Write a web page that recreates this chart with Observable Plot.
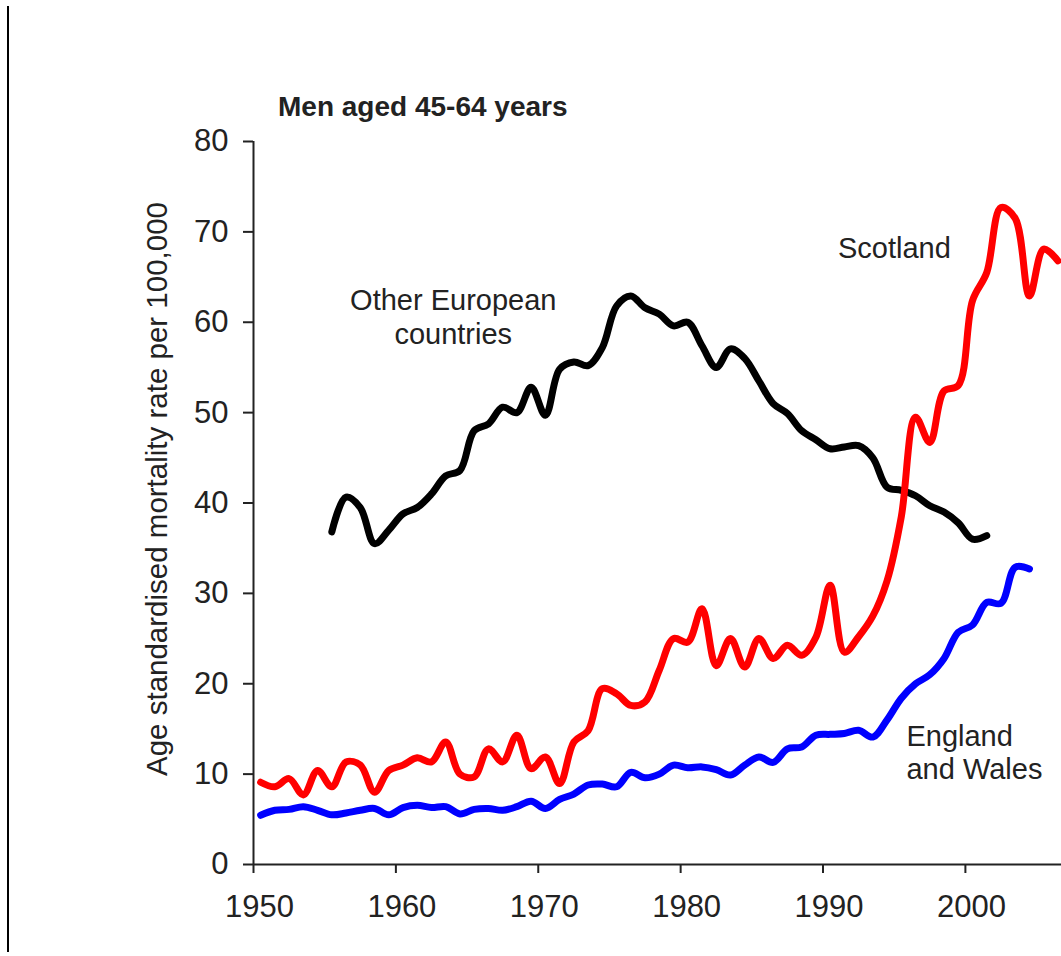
<!DOCTYPE html>
<html><head><meta charset="utf-8">
<script src="https://cdn.jsdelivr.net/npm/d3@7"></script>
<script src="https://cdn.jsdelivr.net/npm/@observablehq/plot@0.6"></script>
<style>
body{margin:0;background:#fff;}
#wrap{position:relative;width:1061px;height:956px;overflow:hidden;font-family:"Liberation Sans",Arial,sans-serif;background:#fff;}
#border{position:absolute;left:7px;top:6px;width:2px;height:946px;background:#000;}
#title{position:absolute;left:278px;top:91px;font-weight:bold;font-size:28px;color:#222;white-space:nowrap;}
#chart{position:absolute;left:0;top:0;}
</style></head><body>
<div id="wrap"><div id="border"></div><div id="chart"></div><div id="title">Men aged 45-64 years</div></div>
<script>
// Data (annual values, plotted mid-year)
const englandStart = 1950;
const englandValues = [5.45,6.0,6.1,6.4,6.0,5.5,5.7,6.0,6.2,5.5,
  6.3,6.55,6.3,6.4,5.6,6.1,6.2,6.0,6.4,7.0,
  6.2,7.2,7.8,8.8,8.9,8.6,10.2,9.6,10.0,11.0,
  10.7,10.8,10.5,9.9,11.0,11.9,11.3,12.8,13.0,14.3,
  14.4,14.5,14.85,14.1,16.0,18.4,20.0,21.0,22.8,25.7,
  26.5,29.0,28.9,32.9,32.7];
const scotlandStart = 1950;
const scotlandValues = [9.1,8.6,9.5,7.7,10.4,8.6,11.35,11.0,8.0,10.4,
  11.0,11.8,11.35,13.55,10.0,9.7,12.8,11.35,14.3,10.6,
  11.9,8.95,13.55,14.8,19.45,18.9,17.6,18.0,21.5,25.0,
  24.6,28.3,22.0,25.0,21.85,25.0,22.8,24.25,23.15,25.15,
  30.9,23.5,25.2,27.5,31.4,38.5,49.5,46.7,52.4,53.0,
  62.4,65.5,72.7,71.5,62.9,68.1,66.8];
const europeStart = 1955;
const europeValues = [36.8,40.65,39.5,35.5,37.0,
  38.8,39.5,41.0,43.0,43.6,48.0,48.75,50.6,50.0,52.8,
  49.7,54.8,55.6,55.2,57.2,61.8,62.9,61.6,60.9,59.6,
  60.0,57.4,55.0,57.05,56.0,53.5,51.0,49.9,48.0,47.0,
  46.0,46.2,46.35,45.0,41.75,41.4,40.8,39.7,39.0,37.8,
  36.0,36.4];
const xTicks = [1950,1960,1970,1980,1990,2000];
const yTicks = [0,10,20,30,40,50,60,70,80];
const yLabel = "Age standardised mortality rate per 100,000";

const toRows = (start, vals) => vals.map((v, i) => ({year: start + i, value: v}));
const england = toRows(englandStart, englandValues);
const scotland = toRows(scotlandStart, scotlandValues);
const europe = toRows(europeStart, europeValues);

const lineOpts = (stroke) => ({
  x: d => d.year + 0.5, y: "value", stroke, strokeWidth: 7,
  curve: "catmull-rom", strokeLinecap: "round", strokeLinejoin: "round"
});
const txt = {fontSize: 29, fill: "#222", lineAnchor: "middle"};

const chart = Plot.plot({
  width: 1061, height: 956,
  marginLeft: 253, marginRight: 0, marginTop: 141, marginBottom: 92,
  x: {domain: [1950, 2006.75]},
  y: {domain: [0, 80]},
  style: {fontFamily: "'Liberation Sans', Arial, sans-serif", background: "transparent", color: "#222", overflow: "visible"},
  marks: [
    Plot.axisY({ticks: yTicks, tickSize: 10, tickPadding: 15, fontSize: 31, label: null, strokeWidth: 2}),
    Plot.axisX({ticks: xTicks, tickSize: 9, tickFormat: () => "", label: null, strokeWidth: 2}),
    Plot.axisX({ticks: xTicks, tickSize: 0, tickPadding: 30, dx: 6, fontSize: 31, tickFormat: d => String(d), label: null}),
    Plot.ruleX([1950], {stroke: "#222", strokeWidth: 2}),
    Plot.ruleY([0], {stroke: "#222", strokeWidth: 2}),
    Plot.line(europe, lineOpts("#000000")),
    Plot.line(scotland, lineOpts("#ff0000")),
    Plot.line(england, lineOpts("#0000ff")),
    Plot.text([yLabel], {frameAnchor: "left", rotate: -90, dx: -96, dy: -14, fontSize: 29.5, fill: "#222", textAnchor: "middle", lineAnchor: "middle"}),
    Plot.text(["Other European\ncountries"], {...txt, x: 1964.03, y: 60.7, textAnchor: "middle", lineHeight: 1.2}),
    Plot.text(["Scotland"], {...txt, x: 1991.05, y: 68.1, textAnchor: "start"}),
    Plot.text(["England\nand Wales"], {...txt, x: 1995.86, y: 12.47, textAnchor: "start", lineHeight: 1.14})
  ]
});
document.getElementById("chart").appendChild(chart);
</script>
</body></html>
